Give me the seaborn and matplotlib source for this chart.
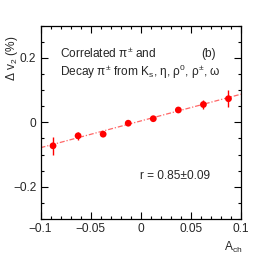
import numpy as np
import pandas as pd
import matplotlib
matplotlib.use("Agg")
import matplotlib.pyplot as plt
from matplotlib.ticker import MultipleLocator
import seaborn as sns

# ---------------------------
# Data
# ---------------------------
a_ch = [-0.0875, -0.0625, -0.0375, -0.0125, 0.0125, 0.0375, 0.0625, 0.0875]
dv2 = [-0.073, -0.042, -0.037, -0.003, 0.011, 0.038, 0.055, 0.073]
dv2_err = [0.027, 0.013, 0.005, 0.004, 0.004, 0.004, 0.015, 0.027]

fit_slope = 0.83
fit_intercept = 0.004
fit_range = [-0.1, 0.1]

df = pd.DataFrame({"a_ch": a_ch, "dv2": dv2, "err": dv2_err})

# ---------------------------
# Style
# ---------------------------
sns.set_style("ticks")
plt.rcParams["font.family"] = ["Liberation Sans", "DejaVu Sans"]
plt.rcParams["mathtext.fontset"] = "custom"
plt.rcParams["mathtext.rm"] = "Liberation Sans"
plt.rcParams["mathtext.it"] = "Liberation Sans"

FS = 8.6

fig = plt.figure(figsize=(2.68, 2.58), dpi=100)
ax = fig.add_axes([40.5 / 268, 1 - 219 / 258, 200.5 / 268, 193.5 / 258])

# fit line
fit_x = np.array(fit_range)
fit_df = pd.DataFrame({"x": fit_x, "y": fit_slope * fit_x + fit_intercept})
sns.lineplot(data=fit_df, x="x", y="y", ax=ax, color="#ff6666", lw=0.9,
             linestyle=(0, (4, 1.5, 1, 1.5)), zorder=1)

# points with error bars
ax.errorbar(df["a_ch"], df["dv2"], yerr=df["err"], fmt="none",
            ecolor="red", elinewidth=1.0, capsize=0, zorder=2)
sns.scatterplot(data=df, x="a_ch", y="dv2", ax=ax, color="red", s=24,
                edgecolor="none", zorder=3)

ax.set_xlim(-0.1, 0.1)
ax.set_ylim(-0.3, 0.3)
ax.xaxis.set_minor_locator(MultipleLocator(0.01))
ax.yaxis.set_minor_locator(MultipleLocator(0.05))
ax.set_xticks([-0.1, -0.05, 0, 0.05, 0.1])
ax.set_xticklabels(["\u22120.1", "\u22120.05", "0", "0.05", "0.1"])
ax.set_yticks([-0.2, 0, 0.2])
ax.set_yticklabels(["\u22120.2", "0", "0.2"])

ax.tick_params(which="both", direction="in", top=True, right=True,
               labelsize=FS, width=0.8, color="black", pad=3)
ax.tick_params(which="major", length=5)
ax.tick_params(which="minor", length=2.5)
for s in ax.spines.values():
    s.set_linewidth(0.9)
    s.set_color("black")

ax.set_xlabel("")
ax.set_ylabel("")
fig.text(242 / 268, 1 - 247 / 258, r"A$_{\rm ch}$", ha="right", va="center",
         fontsize=FS)
fig.text(12 / 268, 1 - 36 / 258, r"$\Delta$ v$_{2}$ (%)", ha="center",
         va="top", rotation=90, fontsize=FS)

ax.text(60 / 268, 1 - 54 / 258, "Correlated \u03c0$^{\u00b1}$ and",
        transform=fig.transFigure, fontsize=FS, va="center")
ax.text(201 / 268, 1 - 54 / 258, "(b)", transform=fig.transFigure,
        fontsize=FS, va="center")
ax.text(60 / 268, 1 - 72 / 258,
        "Decay \u03c0$^{\u00b1}$ from K$_{s}$, \u03b7, \u03c1$^{0}$, \u03c1$^{\u00b1}$, \u03c9",
        transform=fig.transFigure, fontsize=FS, va="center")
ax.text(140 / 268, 1 - 176 / 258, "r = 0.85\u00b10.09",
        transform=fig.transFigure, fontsize=FS, va="center")

fig.savefig("out.png", dpi=100)
